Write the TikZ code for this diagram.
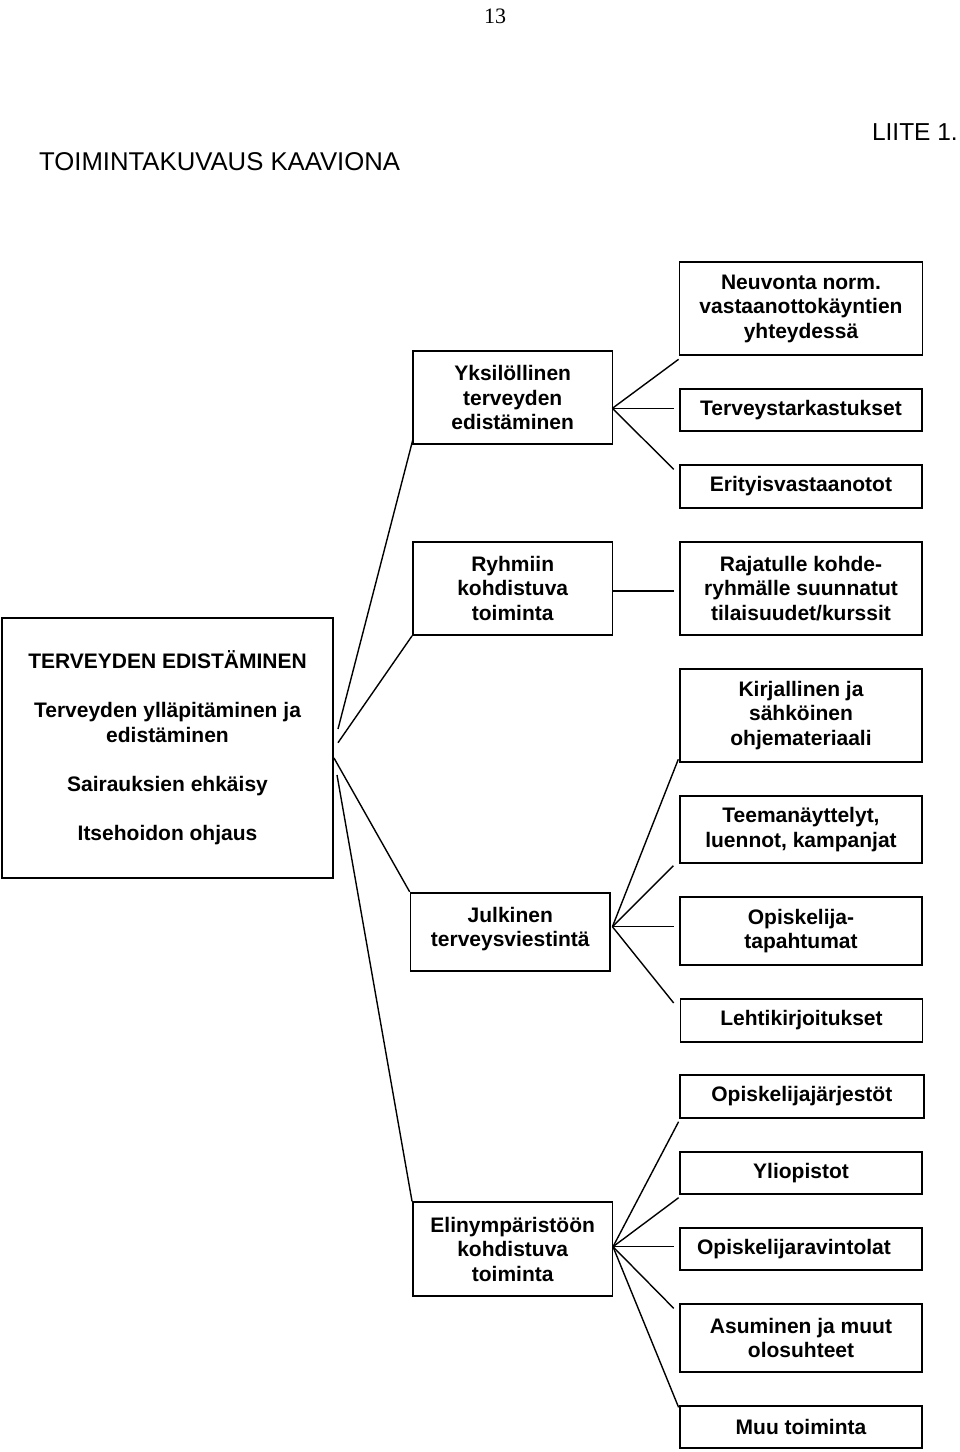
\documentclass[tikz,border=0pt]{standalone}
\usepackage{fontspec}
\setmainfont{Liberation Sans}
\newfontfamily\seriffont{Liberation Serif}
\begin{document}
\begin{tikzpicture}[x=1pt,y=-1pt,
  box/.style={draw, line width=1.8pt, inner sep=0pt, align=center,
    font=\fontsize{21}{24.5}\selectfont\bfseries},
  wide/.style={box, minimum width=242pt},
  mid/.style={box, minimum width=199.5pt},
  conn/.style={line width=1.4pt},
  plain/.style={inner sep=0pt}]
\useasboundingbox (0,0) rectangle (960,1452);

% header texts
\node[plain, anchor=base] (pnum) at (495,23) {\seriffont\fontsize{22}{24}\selectfont 13};
\node[plain, anchor=base east] (liite) at (958,140) {\fontsize{24.5}{28}\selectfont LIITE 1.};
\node[plain, anchor=base west] (title) at (39,170.5) {\fontsize{25.7}{28}\selectfont TOIMINTAKUVAUS KAAVIONA};

% main box
\node[box, minimum width=330.6pt, minimum height=260pt] (main) at (167.5,747.7)
  {TERVEYDEN EDISTÄMINEN\\[24.5pt]Terveyden ylläpitäminen ja\\edistäminen\\[24.5pt]Sairauksien ehkäisy\\[24.5pt]Itsehoidon ohjaus};

% middle column
\node[mid, minimum height=93pt] (yks) at (512.7,397.5) {Yksilöllinen\\terveyden\\edistäminen};
\node[mid, minimum height=93.3pt] (ryh) at (512.7,588.3) {Ryhmiin\\kohdistuva\\toiminta};
\node[mid, minimum height=78pt, text depth=10pt] (julk) at (510.3,931.7) {Julkinen\\terveysviestintä};
\node[mid, minimum height=93.4pt] (elin) at (512.7,1249) {Elinympäristöön\\kohdistuva\\toiminta};

% right column
\node[wide, minimum width=243pt, minimum height=93pt] (neuv) at (801,308.5) {Neuvonta norm.\hspace{14pt}\\vastaanottokäyntien\hspace{6pt}\\yhteydessä\hspace{24pt}};
\node[wide, minimum height=42pt] (terv) at (801,410) {Terveystarkastukset};
\node[wide, minimum height=43pt] (erit) at (801,486.5) {Erityisvastaanotot};
\node[wide, minimum height=93.3pt] (raj) at (801,588.3) {Rajatulle kohde-\\ryhmälle suunnatut\\tilaisuudet/kurssit};
\node[wide, minimum height=92.7pt] (kirj) at (801,715.3) {Kirjallinen ja\\sähköinen\\ohjemateriaali};
\node[wide, minimum height=67.3pt] (teema) at (801,829.7) {Teemanäyttelyt,\\luennot, kampanjat};
\node[wide, minimum height=68pt] (opta) at (801,931) {Opiskelija-\\tapahtumat};
\node[wide, minimum height=42.7pt] (lehti) at (801.5,1020.3) {Lehtikirjoitukset};
\node[wide, minimum height=42.7pt, minimum width=243.6pt] (ojarj) at (801.8,1096.3) {Opiskelijajärjestöt};
\node[wide, minimum height=42.3pt] (ylio) at (801,1172.8) {Yliopistot};
\node[wide, minimum height=42.3pt] (orav) at (801,1248.8) {Opiskelijaravintolat\hspace{14pt}};
\node[wide, minimum height=68pt] (asum) at (801,1338) {Asuminen ja muut\\olosuhteet};
\node[wide, minimum height=42.3pt] (muu) at (801,1427) {Muu toiminta};

% connector end points
\coordinate (yksO) at (612.4,408.3);
\coordinate (neuvE) at (678.6,359.3);
\coordinate (tervE) at (673.7,408.3);
\coordinate (eritE) at (673.7,469.3);
\coordinate (mainA) at (338,729);
\coordinate (mainB) at (338,742.7);
\coordinate (mainC) at (334,758);
\coordinate (mainD) at (337,775);
\coordinate (ryhO) at (612.5,591);
\coordinate (rajE) at (673.6,591);
\coordinate (julkO) at (612.4,926.7);
\coordinate (kirjE) at (678.3,759.3);
\coordinate (teemaE) at (673.3,865.7);
\coordinate (optaE) at (673.7,926.7);
\coordinate (lehtiE) at (673.7,1003);
\coordinate (elinO) at (613,1246.7);
\coordinate (ojarjE) at (678.6,1121.7);
\coordinate (ylioE) at (678.6,1197.7);
\coordinate (oravE) at (673.7,1246.7);
\coordinate (asumE) at (673.7,1308.3);
\coordinate (muuE) at (678.6,1407.3);

% connectors
\draw[conn] (yksO) -- (neuvE);
\draw[conn] (yksO) -- (tervE);
\draw[conn] (yksO) -- (eritE);
\draw[conn] (yks.south west) ++(1,-6) -- (mainA);
\draw[conn] (ryh.south west) -- (mainB);
\draw[conn] (ryhO) -- (rajE);
\draw[conn] (mainC) -- (julk.north west);
\draw[conn] (mainD) -- (elin.north west);
\draw[conn] (julkO) -- (kirjE);
\draw[conn] (julkO) -- (teemaE);
\draw[conn] (julkO) -- (optaE);
\draw[conn] (julkO) -- (lehtiE);
\draw[conn] (elinO) -- (ojarjE);
\draw[conn] (elinO) -- (ylioE);
\draw[conn] (elinO) -- (oravE);
\draw[conn] (elinO) -- (asumE);
\draw[conn] (elinO) -- (muuE);
\end{tikzpicture}
\end{document}
